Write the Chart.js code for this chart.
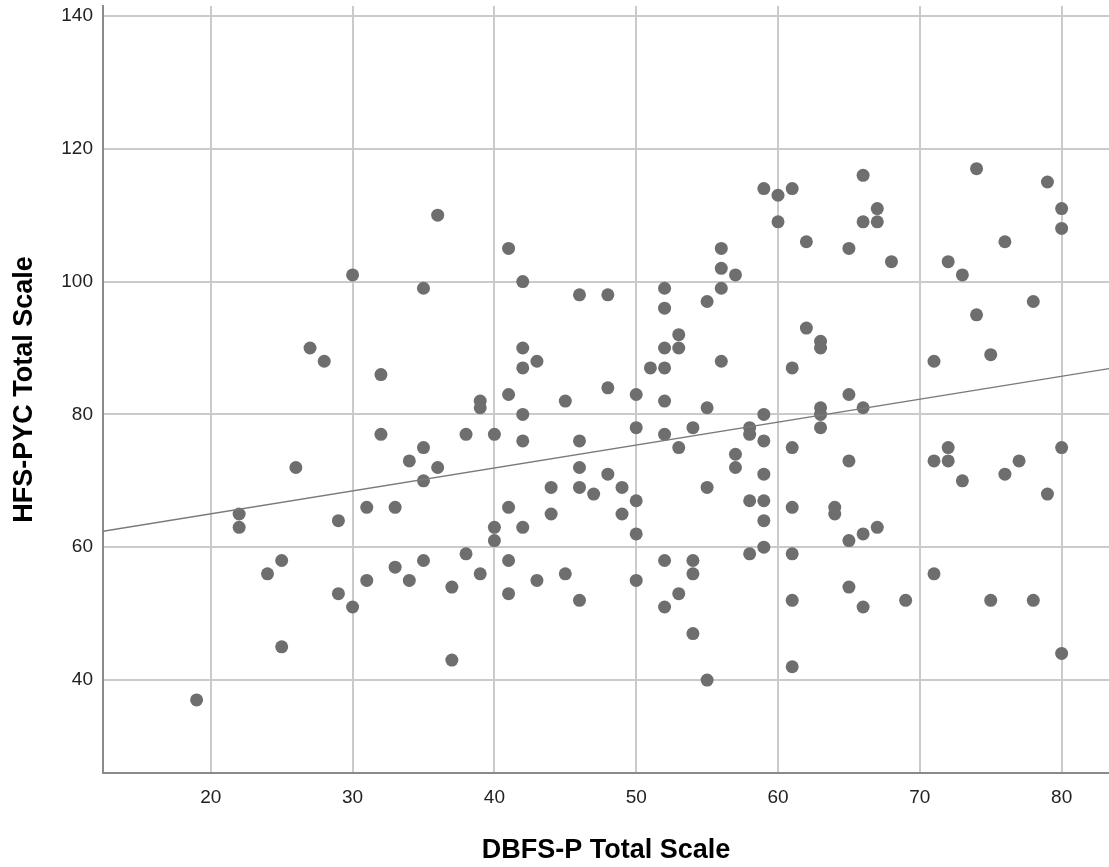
<!DOCTYPE html>
<html>
<head>
<meta charset="utf-8">
<script src="https://cdn.jsdelivr.net/npm/chart.js@4"></script>
<style>
  html, body { margin: 0; padding: 0; background: #fff; overflow: hidden; }
  canvas { display: block; }
</style>
</head>
<body>
<canvas id="scatter-chart" width="1109" height="867"></canvas>
<script>
// DBFS-P total (x) and HFS-PYC total (y), one entry per respondent
const dbfsScores = [
  19, 22, 22, 24, 25, 25, 26, 27, 28, 29, 29, 30, 30, 31, 31, 32, 32, 33, 33, 34, 34,
  35, 35, 35, 35, 36, 36, 37, 37, 38, 38, 39, 39, 39, 40, 40, 40,
  41, 41, 41, 41, 41, 42, 42, 42, 42, 42, 42, 43, 43, 44, 44, 45, 45,
  46, 46, 46, 46, 46, 47, 48, 48, 48, 49, 49, 50, 50, 50, 50, 50, 51,
  52, 52, 52, 52, 52, 52, 52, 52, 53, 53, 53, 53, 54, 54, 54, 54, 55, 55, 55, 55,
  56, 56, 56, 56, 57, 57, 57, 58, 58, 58, 58, 59, 59, 59, 59, 59, 59, 59, 60, 60,
  61, 61, 61, 61, 61, 61, 61, 62, 62, 63, 63, 63, 63, 63, 64, 64,
  65, 65, 65, 65, 65, 66, 66, 66, 66, 66, 67, 67, 67, 68, 69,
  71, 71, 71, 72, 72, 72, 73, 73, 74, 74, 75, 75, 76, 76, 77, 78, 78, 79, 79,
  80, 80, 80, 80
];
const hfsScores = [
  37, 65, 63, 56, 58, 45, 72, 90, 88, 64, 53, 101, 51, 66, 55, 86, 77, 66, 57, 73, 55,
  99, 75, 70, 58, 110, 72, 54, 43, 77, 59, 82, 81, 56, 77, 63, 61,
  105, 83, 66, 58, 53, 100, 90, 87, 80, 76, 63, 88, 55, 69, 65, 82, 56,
  98, 76, 72, 69, 52, 68, 98, 84, 71, 69, 65, 83, 78, 67, 62, 55, 87,
  99, 96, 90, 87, 82, 77, 58, 51, 92, 90, 75, 53, 78, 58, 56, 47, 97, 81, 69, 40,
  105, 102, 99, 88, 101, 74, 72, 78, 77, 67, 59, 114, 80, 76, 71, 67, 64, 60, 113, 109,
  114, 87, 75, 66, 59, 52, 42, 106, 93, 91, 90, 81, 80, 78, 66, 65,
  105, 83, 73, 61, 54, 116, 109, 81, 62, 51, 111, 109, 63, 103, 52,
  88, 73, 56, 103, 75, 73, 101, 70, 117, 95, 89, 52, 106, 71, 73, 97, 52, 115, 68,
  111, 108, 75, 44
];

const fitLineX = [12.4, 83.34];
const fitLineY = [62.4, 86.9];

const xTicks = [20, 30, 40, 50, 60, 70, 80];
const yTicks = [40, 60, 80, 100, 120, 140];

const points = dbfsScores.map((x, i) => ({ x: x, y: hfsScores[i] }));
const fitLine = fitLineX.map((x, i) => ({ x: x, y: fitLineY[i] }));

const tickFont = { family: "'Liberation Sans', Arial, sans-serif", size: 19 };
const titleFont = { family: "'Liberation Sans', Arial, sans-serif", size: 27, weight: 'bold' };

new Chart(document.querySelector('#scatter-chart').getContext('2d'), {
  type: 'scatter',
  data: {
    datasets: [
      {
        label: 'Respondents',
        data: points,
        backgroundColor: '#6e6e6e',
        pointRadius: 6.5,
        pointBorderWidth: 0,
        order: 1
      },
      {
        type: 'line',
        label: 'Fit',
        data: fitLine,
        borderColor: '#7a7a7a',
        borderWidth: 1.3,
        pointRadius: 0,
        fill: false,
        order: 0
      }
    ]
  },
  options: {
    responsive: false,
    animation: false,
    events: [],
    // plot runs right up to the canvas edge, so no auto padding for point size
    layout: { autoPadding: false, padding: { top: 6, right: 0, bottom: 0, left: 0 } },
    plugins: { legend: { display: false }, tooltip: { enabled: false } },
    scales: {
      x: {
        type: 'linear',
        min: 12.4,
        max: 83.34,
        afterBuildTicks: scale => { scale.ticks = xTicks.map(v => ({ value: v })); },
        // fixed axis band, no extra room for edge labels
        afterFit: scale => { scale.height = 94; scale.paddingLeft = 0; scale.paddingRight = 0; },
        grid: { color: '#cacaca', lineWidth: 2, drawTicks: false },
        border: { display: true, color: '#8a8a8a', width: 2 },
        ticks: { font: tickFont, color: '#222', padding: 13, maxRotation: 0 },
        title: { display: true, text: 'DBFS-P Total Scale', font: titleFont, color: '#000', padding: { top: 4, bottom: 0 } }
      },
      y: {
        type: 'linear',
        min: 26,
        max: 141.5,
        afterBuildTicks: scale => { scale.ticks = yTicks.map(v => ({ value: v })); },
        afterFit: scale => { scale.width = 103; scale.paddingTop = 0; scale.paddingBottom = 0; },
        grid: { color: '#cacaca', lineWidth: 2, drawTicks: false },
        border: { display: true, color: '#8a8a8a', width: 2 },
        ticks: { font: tickFont, color: '#222', padding: 10 },
        title: { display: true, text: 'HFS-PYC Total Scale', font: titleFont, color: '#000', padding: { top: 8, bottom: 0 } }
      }
    }
  }
});
</script>
</body>
</html>
